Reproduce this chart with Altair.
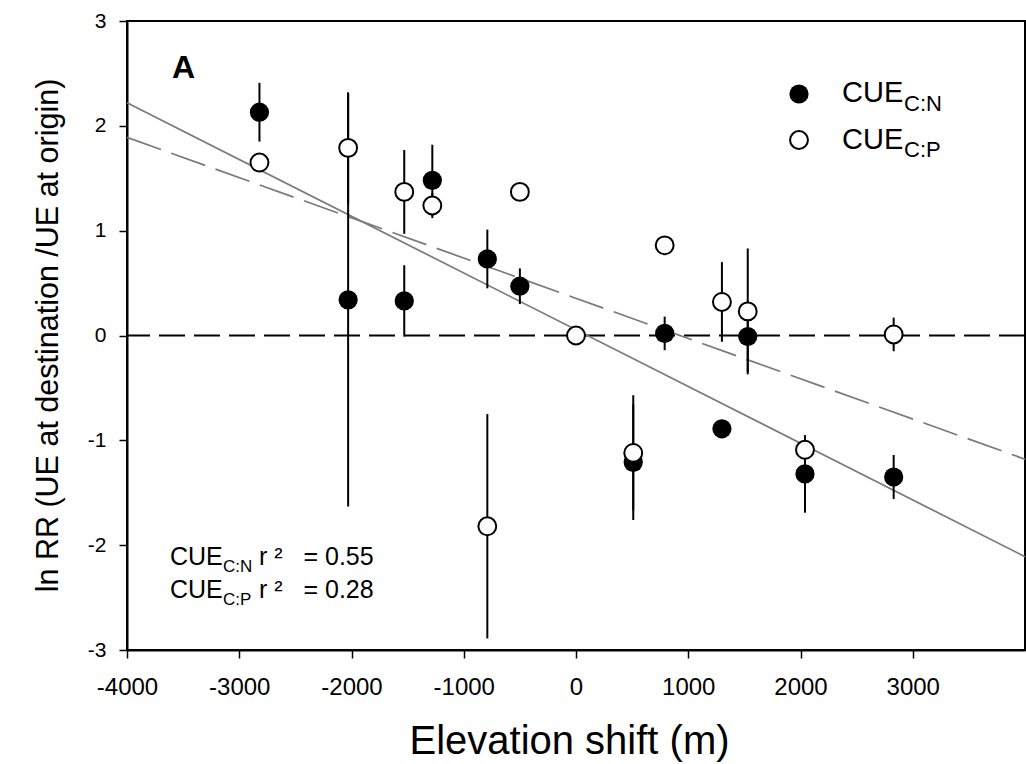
import altair as alt
import pandas as pd

FONT = "Liberation Sans"

# ---- data ----
elev_cn = [-2820, -2030, -1530, -1280, -790, -500, 510, 790, 1300, 1530, 2040, 2830]
rr_cn   = [2.13, 0.34, 0.33, 1.48, 0.73, 0.47, -1.21, 0.02, -0.89, -0.01, -1.32, -1.35]
err_cn  = [0.28, 1.97, 0.34, 0.34, 0.28, 0.17, 0.55, 0.16, 0.05, 0.34, 0.37, 0.21]

elev_cp = [-2820, -2030, -1530, -1280, -790, -500, 0, 510, 790, 1300, 1530, 2040, 2830]
rr_cp   = [1.65, 1.79, 1.37, 1.24, -1.82, 1.37, 0.0, -1.12, 0.86, 0.32, 0.23, -1.09, 0.01]
err_cp  = [0.08, 0.53, 0.40, 0.12, 1.07, 0.05, 0.0, 0.55, 0.05, 0.38, 0.60, 0.13, 0.16]

fit_x  = [-4000, 4000]
fit_cn = [2.22, -2.11]
fit_cp = [1.89, -1.18]

x_ticks = [-4000, -3000, -2000, -1000, 0, 1000, 2000, 3000]
y_ticks = [-3, -2, -1, 0, 1, 2, 3]

df_cn = pd.DataFrame({"x": elev_cn, "y": rr_cn, "e": err_cn})
df_cn["lo"] = df_cn["y"] - df_cn["e"]
df_cn["hi"] = df_cn["y"] + df_cn["e"]
df_cp = pd.DataFrame({"x": elev_cp, "y": rr_cp, "e": err_cp})
df_cp["lo"] = df_cp["y"] - df_cp["e"]
df_cp["hi"] = df_cp["y"] + df_cp["e"]
df_fit = pd.DataFrame({"x": fit_x, "cn": fit_cn, "cp": fit_cp})
df_zero = pd.DataFrame({"y": [0]})
one = pd.DataFrame({"a": [0]})

xs = alt.Scale(domain=[-4000, 4000], nice=False, zero=False)
ys = alt.Scale(domain=[-3, 3], nice=False, zero=False)

x_axis = alt.Axis(values=x_ticks, title="Elevation shift (m)", grid=False,
                  labelExpr="'' + datum.value", labelFlush=False, labelOverlap=False,
                  labelFontSize=24, labelPadding=17, tickSize=8, tickWidth=1.5,
                  titleFontSize=40, titleFontWeight="normal", titleBaseline="alphabetic",
                  titleY=103, titleX=442, titleAlign="center")
y_axis = alt.Axis(values=y_ticks, title="ln RR (UE at destination /UE at origin)", grid=False,
                  labelExpr="'' + datum.value", labelFlush=False, labelOverlap=False,
                  labelFontSize=21, labelPadding=13, tickSize=8, tickWidth=1.5,
                  titleFontSize=30.5, titleFontWeight="normal", titleBaseline="alphabetic",
                  titleX=-70, titleY=314, titleAngle=270, titleAlign="center")

X = lambda f="x": alt.X(f"{f}:Q", scale=xs, axis=x_axis)
Y = lambda f="y": alt.Y(f"{f}:Q", scale=ys, axis=y_axis)

zero_line = alt.Chart(df_zero).mark_rule(color="black", strokeWidth=2, strokeDash=[26, 9]).encode(
    y=Y("y"))

line_cn = alt.Chart(df_fit).mark_line(color="#7a7a7a", strokeWidth=1.7).encode(x=X(), y=Y("cn"))
line_cp = alt.Chart(df_fit).mark_line(color="#7a7a7a", strokeWidth=1.7, strokeDash=[36, 11]).encode(
    x=X(), y=Y("cp"))

err_cn_layer = alt.Chart(df_cn).mark_rule(color="black", strokeWidth=2).encode(
    x=X(), y=Y("lo"), y2="hi:Q")
err_cp_layer = alt.Chart(df_cp).mark_rule(color="black", strokeWidth=2).encode(
    x=X(), y=Y("lo"), y2="hi:Q")

pts_cn = alt.Chart(df_cn).mark_point(shape="circle", filled=True, color="black", size=370, opacity=1).encode(
    x=X(), y=Y())
pts_cp = alt.Chart(df_cp).mark_point(shape="circle", filled=True, fill="white", stroke="black",
                                     strokeWidth=2, size=320, opacity=1).encode(x=X(), y=Y())


def label(txt, x, y, size, weight="normal"):
    return alt.Chart(one).mark_text(align="left", baseline="alphabetic", font=FONT, fontSize=size,
                                    fontWeight=weight, color="black").encode(
        x=alt.value(x), y=alt.value(y), text=alt.value(txt))


NB = "\u00a0"
annots = [
    label("A", 45, 57, 32, "bold"),
    label("CUE", 43, 544, 25), label("C:N", 96, 551, 17), label("r" + NB + "\u00b2" + NB * 3 + "= 0.55", 132, 544, 25),
    label("CUE", 43, 577, 25), label("C:P", 96, 584, 17), label("r" + NB + "\u00b2" + NB * 3 + "= 0.28", 132, 577, 25),
    label("CUE", 715, 81, 29), label("C:N", 777, 90, 22),
    label("CUE", 715, 128, 29), label("C:P", 777, 136, 22),
]

leg_filled = alt.Chart(one).mark_point(shape="circle", filled=True, color="black", size=370, opacity=1).encode(
    x=alt.value(672), y=alt.value(73))
leg_open = alt.Chart(one).mark_point(shape="circle", filled=True, fill="white", stroke="black",
                                     strokeWidth=2, size=320, opacity=1).encode(x=alt.value(672), y=alt.value(119))

chart = alt.layer(
    zero_line, line_cn, line_cp, err_cn_layer, err_cp_layer, pts_cn, pts_cp,
    leg_filled, leg_open, *annots
).properties(
    width=898, height=629, autosize="none",
    padding={"left": 127, "top": 21, "right": 1, "bottom": 114},
).configure(font=FONT, background="white").configure_axis(
    domainColor="black", domainWidth=2, tickColor="black", labelColor="black", titleColor="black",
    labelFont=FONT, titleFont=FONT,
).configure_view(stroke="black", strokeWidth=2)

chart.save("out.html", embed_options={"renderer": "svg", "actions": False})
